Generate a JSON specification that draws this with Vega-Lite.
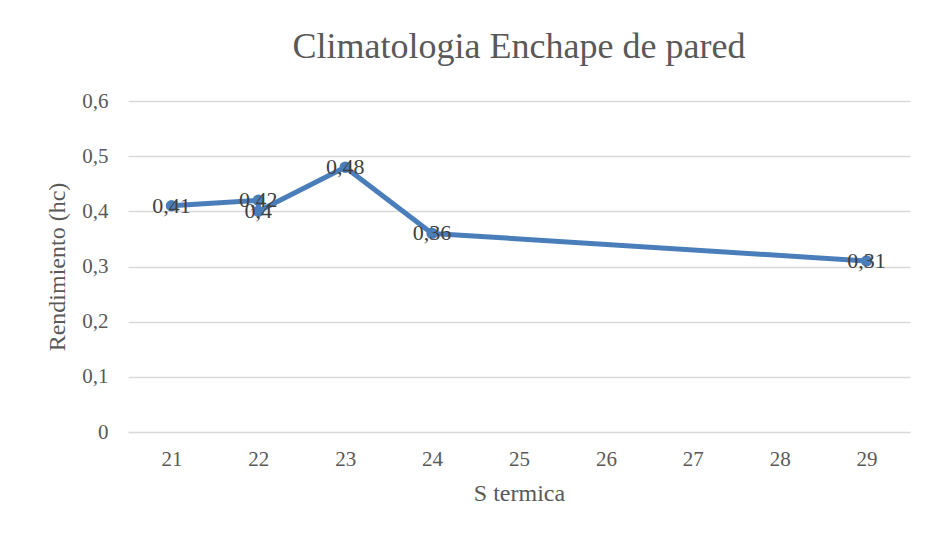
{
  "$schema": "https://vega.github.io/schema/vega-lite/v6.json",
  "autosize": "none",
  "width": 782,
  "height": 331,
  "padding": {"left": 128, "top": 101, "right": 16, "bottom": 104},
  "background": "white",
  "title": {
    "text": "Climatologia Enchape de pared",
    "font": "Liberation Serif, DejaVu Serif, serif",
    "fontSize": 36,
    "fontWeight": "normal",
    "color": "#595959",
    "anchor": "middle",
    "offset": 24
  },
  "data": {
    "values": [
      {"s": 21, "r": 0.41, "o": 1},
      {"s": 22, "r": 0.42, "o": 2},
      {"s": 22, "r": 0.4, "o": 3},
      {"s": 23, "r": 0.48, "o": 4},
      {"s": 24, "r": 0.36, "o": 5},
      {"s": 29, "r": 0.31, "o": 6}
    ]
  },
  "encoding": {
    "x": {
      "field": "s",
      "type": "quantitative",
      "scale": {"domain": [20.5, 29.5], "nice": false, "zero": false},
      "axis": {
        "title": "S termica",
        "values": [21, 22, 23, 24, 25, 26, 27, 28, 29],
        "format": "d",
        "grid": false,
        "domain": false,
        "ticks": false,
        "labelPadding": 16,
        "titlePadding": 12,
        "labelFont": "Liberation Serif, DejaVu Serif, serif",
        "labelFontSize": 21,
        "labelColor": "#595959",
        "titleFont": "Liberation Serif, DejaVu Serif, serif",
        "titleFontSize": 24,
        "titleFontWeight": "normal",
        "titleColor": "#595959"
      }
    },
    "y": {
      "field": "r",
      "type": "quantitative",
      "scale": {"domain": [0, 0.6], "nice": false},
      "axis": {
        "title": "Rendimiento (hc)",
        "values": [0, 0.1, 0.2, 0.3, 0.4, 0.5, 0.6],
        "format": "~g",
        "grid": true,
        "gridColor": "#d9d9d9",
        "gridWidth": 1.5,
        "domain": false,
        "ticks": false,
        "labelPadding": 20,
        "titlePadding": 12,
        "labelFont": "Liberation Serif, DejaVu Serif, serif",
        "labelFontSize": 21,
        "labelColor": "#595959",
        "titleFont": "Liberation Serif, DejaVu Serif, serif",
        "titleFontSize": 24,
        "titleFontWeight": "normal",
        "titleColor": "#595959"
      }
    }
  },
  "layer": [
    {
      "mark": {"type": "line", "color": "#4a7ebb", "strokeWidth": 5, "strokeCap": "round", "strokeJoin": "round"},
      "encoding": {"order": {"field": "o"}}
    },
    {
      "mark": {"type": "point", "filled": true, "color": "#4a7ebb", "opacity": 1, "size": 130, "shape": "circle"}
    },
    {
      "mark": {"type": "text", "font": "Liberation Serif, DejaVu Serif, serif", "fontSize": 22, "color": "#404040", "baseline": "middle", "align": "center"},
      "encoding": {"text": {"field": "r", "type": "quantitative", "format": "~g"}}
    }
  ],
  "config": {
    "view": {"stroke": null},
    "locale": {"number": {"decimal": ",", "thousands": ".", "grouping": [3], "currency": ["", " €"]}}
  }
}
